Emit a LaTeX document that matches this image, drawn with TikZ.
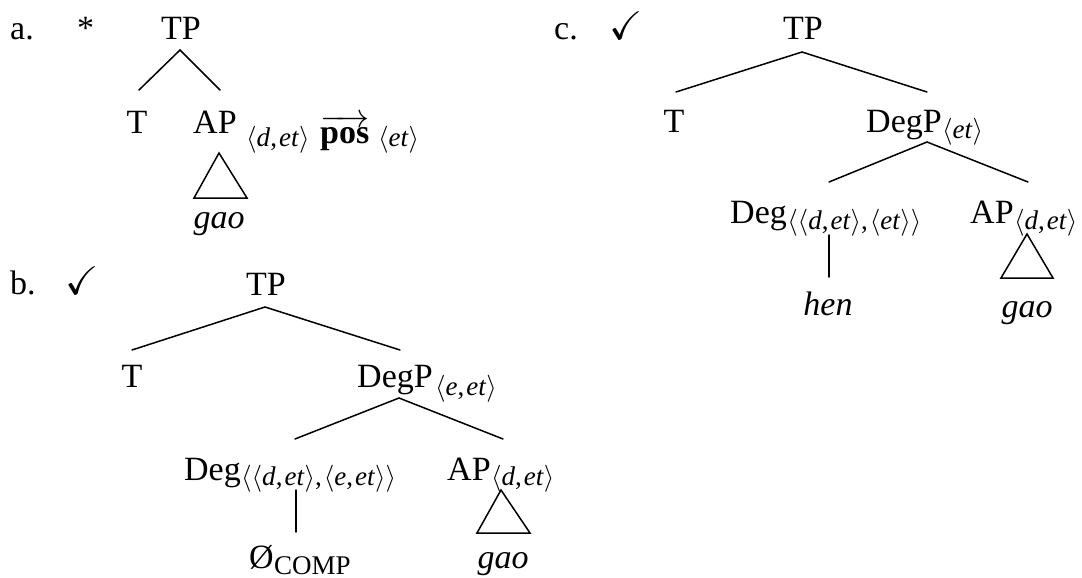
\RequirePackage{fix-cm}
\documentclass[tikz,border=0pt]{standalone}
\usepackage{amssymb}
\usepackage{fontspec}
\setmainfont{Liberation Serif}
\newcommand{\ang}[1]{\ensuremath{\langle}#1\ensuremath{\rangle}}
\newcommand{\cm}{,\kern2pt}
\tikzset{
  lab/.style={font=\fontsize{34}{40}\selectfont, inner sep=0pt, anchor=base},
  labw/.style={lab, anchor=base west},
  chk/.style={font=\fontsize{40}{46}\selectfont, inner sep=0pt, anchor=base west},
  sub/.style={font=\fontsize{27}{31}\selectfont, inner sep=0pt, anchor=base west},
  branch/.style={line width=1.5pt, line cap=round},
  roof/.style={line width=1.5pt, line join=miter}
}
\begin{document}
\begin{tikzpicture}[x=1pt,y=-1pt]
\useasboundingbox (0,0) rectangle (1082,578);
% ---------- tree a ----------
\node[labw] (alab) at (10,40) {a.};
\node[labw] (astar) at (77,40) {*};
\node[lab] (aTP) at (181,40) {TP};
\node[lab] (aT) at (137,133) {T};
\node[labw] (aAP) at (193,133) {AP};
\node[sub] (aAPs) at (246,146) {\ang{\textit{d}\cm\textit{et}}};
\node[labw] (apos) at (320,143) {$\overrightarrow{\textbf{pos}}$};
\node[sub] (aet) at (378,146) {\ang{\textit{et}}};
\node[lab] (agao) at (219,228) {\textit{gao}};
\coordinate (aTPb) at (180,50);
\coordinate (aTt) at (139,90);
\coordinate (aAPt) at (220,90);
\draw[branch] (aTt) -- (aTPb) -- (aAPt);
\coordinate (atri1) at (219,153);
\coordinate (atri2) at (194,198);
\coordinate (atri3) at (247,198);
\draw[roof] (atri1) -- (atri2) -- (atri3) -- cycle;
% ---------- tree b ----------
\node[labw] (blab) at (10,294) {b.};
\node[chk] (bchk) at (65,294) {$\checkmark$};
\node[lab] (bTP) at (266,295) {TP};
\node[lab] (bT) at (132,387) {T};
\node[labw] (bDegP) at (357,387) {DegP};
\node[sub] (bDegPs) at (435,395) {\ang{\textit{e}\cm\textit{et}}};
\node[labw] (bDeg) at (184,480) {Deg};
\node[sub] (bDegs) at ([yshift=-5pt]bDeg.base east) {\ang{\ang{\textit{d}\cm\textit{et}}\cm\ang{\textit{e}\cm\textit{et}}}};
\node[labw] (bAP) at (447,480) {AP};
\node[sub] (bAPs) at ([yshift=-5pt]bAP.base east) {\ang{\textit{d}\cm\textit{et}}};
\node[labw] (bnull) at (249,568) {Ø};
\node[sub] (bcomp) at (bnull.base east) {\raisebox{-6pt}{COMP}};
\node[lab] (bgao) at (503,568) {\textit{gao}};
\coordinate (bTPb) at (265,307);
\coordinate (bTt) at (132,350);
\coordinate (bDegPt) at (400,350);
\draw[branch] (bTt) -- (bTPb) -- (bDegPt);
\coordinate (bDegPb) at (399,398);
\coordinate (bDegt) at (295,439);
\coordinate (bAPt) at (503,439);
\draw[branch] (bDegt) -- (bDegPb) -- (bAPt);
\coordinate (bDegb) at (296,490);
\coordinate (bnullt) at (296,532);
\draw[branch] (bDegb) -- (bnullt);
\coordinate (btri1) at (501,490);
\coordinate (btri2) at (477,533);
\coordinate (btri3) at (530,533);
\draw[roof] (btri1) -- (btri2) -- (btri3) -- cycle;
% ---------- tree c ----------
\node[labw] (clab) at (554,40) {c.};
\node[chk] (cchk) at (609,40) {$\checkmark$};
\node[lab] (cTP) at (803,40) {TP};
\node[lab] (cT) at (674,132) {T};
\node[labw] (cDegP) at (866,132) {DegP};
\node[sub] (cDegPs) at ([yshift=-6pt]cDegP.base east) {\ang{\textit{et}}};
\node[labw] (cDeg) at (730,223) {Deg};
\node[sub] (cDegs) at ([yshift=-6pt]cDeg.base east) {\ang{\ang{\textit{d}\cm\textit{et}}\cm\ang{\textit{et}}}};
\node[labw] (cAP) at (970,223) {AP};
\node[sub] (cAPs) at ([yshift=-6pt]cAP.base east) {\ang{\textit{d}\cm\textit{et}}};
\node[lab] (chen) at (828,315) {\textit{hen}};
\node[lab] (cgao) at (1027,317) {\textit{gao}};
\coordinate (cTPb) at (802,52);
\coordinate (cTt) at (676,92);
\coordinate (cDegPt) at (927,92);
\draw[branch] (cTt) -- (cTPb) -- (cDegPt);
\coordinate (cDegPb) at (927,142);
\coordinate (cDegt) at (829,182);
\coordinate (cAPt) at (1028,182);
\draw[branch] (cDegt) -- (cDegPb) -- (cAPt);
\coordinate (cDegb) at (829,235);
\coordinate (chent) at (829,277);
\draw[branch] (cDegb) -- (chent);
\coordinate (ctri1) at (1027,234);
\coordinate (ctri2) at (1001,278);
\coordinate (ctri3) at (1053,278);
\draw[roof] (ctri1) -- (ctri2) -- (ctri3) -- cycle;
\end{tikzpicture}
\end{document}
